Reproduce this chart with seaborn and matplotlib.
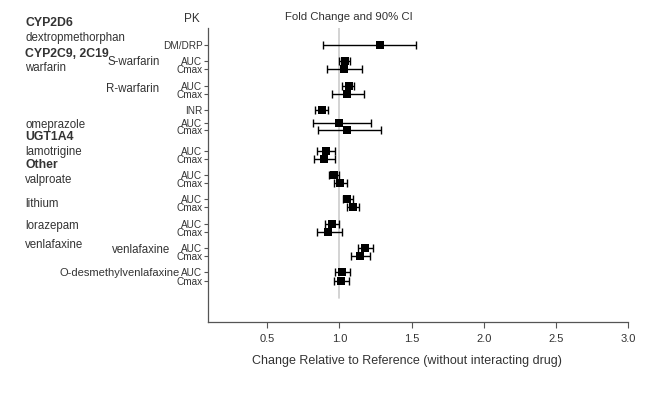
import numpy as np
import pandas as pd
import matplotlib
matplotlib.use("Agg")
import matplotlib.pyplot as plt
import seaborn as sns

# PK parameter per row (tick labels)
params = ["DM/DRP", "AUC", "Cmax", "AUC", "Cmax", "INR", "AUC", "Cmax",
          "AUC", "Cmax", "AUC", "Cmax", "AUC", "Cmax", "AUC", "Cmax",
          "AUC", "Cmax", "AUC", "Cmax"]
# fold change (point estimate) and 90% CI limits
fold = [1.28, 1.04, 1.03, 1.07, 1.05, 0.88, 1.00, 1.05,
        0.905, 0.895, 0.965, 1.005, 1.05, 1.095, 0.95, 0.92,
        1.18, 1.145, 1.02, 1.01]
ci_low = [0.887, 1.00, 0.915, 1.02, 0.95, 0.832, 0.818, 0.854,
          0.845, 0.825, 0.93, 0.965, 1.028, 1.055, 0.903, 0.845,
          1.127, 1.081, 0.97, 0.963]
ci_high = [1.53, 1.076, 1.155, 1.104, 1.168, 0.924, 1.217, 1.286,
           0.967, 0.97, 1.0, 1.053, 1.095, 1.134, 1.0, 1.016,
           1.231, 1.21, 1.076, 1.069]

# row layout on the y axis
row_pos = [0, 2, 3, 5, 6, 8, 9.6, 10.5, 13, 14, 16, 17, 19, 20, 22, 23,
           25, 26, 28, 29]

# left-side annotations: (text, x pixel, row position, bold, size)
left_labels = [
    ("CYP2D6", 25, -2.7, True, 8.8),
    ("dextropmethorphan", 25, -0.9, False, 8.3),
    ("CYP2C9, 2C19", 25, 1.1, True, 8.8),
    ("warfarin", 25, 2.85, False, 8.3),
    ("S-warfarin", 108, 2.1, False, 8.3),
    ("R-warfarin", 106, 5.4, False, 8.3),
    ("omeprazole", 25, 9.9, False, 8.3),
    ("UGT1A4", 25, 11.3, True, 8.8),
    ("lamotrigine", 25, 13.1, False, 8.3),
    ("Other", 25, 14.8, True, 8.8),
    ("valproate", 25, 16.6, False, 8.3),
    ("lithium", 25, 19.6, False, 8.3),
    ("lorazepam", 25, 22.3, False, 8.3),
    ("venlafaxine", 25, 24.6, False, 8.3),
    ("venlafaxine", 112, 25.2, False, 8.3),
    ("O-desmethylvenlafaxine", 60, 28.0, False, 8.0),
]

df = pd.DataFrame({"param": params, "fold": fold, "lo": ci_low,
                   "hi": ci_high, "y": row_pos})

sns.set_style("ticks")
plt.rcParams["font.family"] = ["Liberation Sans", "DejaVu Sans"]
txt = "#333333"

fig = plt.figure(figsize=(6.58, 3.99), dpi=100)
ax = fig.add_axes([208 / 658, 1 - 322 / 399, 420 / 658, 294 / 399])

ymin, ymax = -2.1, 34.1
ax.plot([1, 1], [ymin, 31.1], color="#cccccc", lw=1.2, zorder=0)

ax.errorbar(df["fold"], df["y"],
            xerr=[df["fold"] - df["lo"], df["hi"] - df["fold"]],
            fmt="none", ecolor="black", elinewidth=1, capsize=3, capthick=1)
sns.scatterplot(data=df, x="fold", y="y", marker="s", color="black",
                s=36, edgecolor="black", linewidth=0, ax=ax, zorder=3)

ax.set_xlim(0.09, 3.0)
ax.set_ylim(ymax, ymin)
ax.set_xticks([0.5, 1.0, 1.5, 2.0, 2.5, 3.0])
ax.set_xticklabels(["0.5", "1.0", "1.5", "2.0", "2.5", "3.0"])
ax.set_yticks(row_pos)
ax.set_yticklabels(params, fontsize=7.2, color=txt)
ax.tick_params(axis="y", length=3, pad=1, color="#555555")
ax.tick_params(axis="x", length=4, labelsize=8, labelcolor=txt,
               color="#555555", pad=5)
ax.set_xlabel("Change Relative to Reference (without interacting drug)",
              fontsize=9, color=txt)
ax.xaxis.set_label_coords((407 - 208) / 420, -(355 - 322) / 294)
ax.set_ylabel("")
for s in ["top", "right"]:
    ax.spines[s].set_visible(False)
for s in ["left", "bottom"]:
    ax.spines[s].set_color("#555555")
    ax.spines[s].set_linewidth(0.9)

# header texts
fig.text(192 / 658, 1 - 19 / 399, "PK", ha="center", va="center",
         fontsize=8.5, color=txt)
fig.text(349 / 658, 1 - 16.5 / 399, "Fold Change and 90% CI", ha="center",
         va="center", fontsize=8.2, color=txt)

# group / drug labels on the left
for text, xpx, ypos, bold, size in left_labels:
    ypx = 45 + ypos * 8.13
    fig.text(xpx / 658, 1 - ypx / 399, text, ha="left", va="center",
             fontsize=size, fontweight="semibold" if bold else "normal",
             color=txt)

fig.savefig("out.png", dpi=100)
